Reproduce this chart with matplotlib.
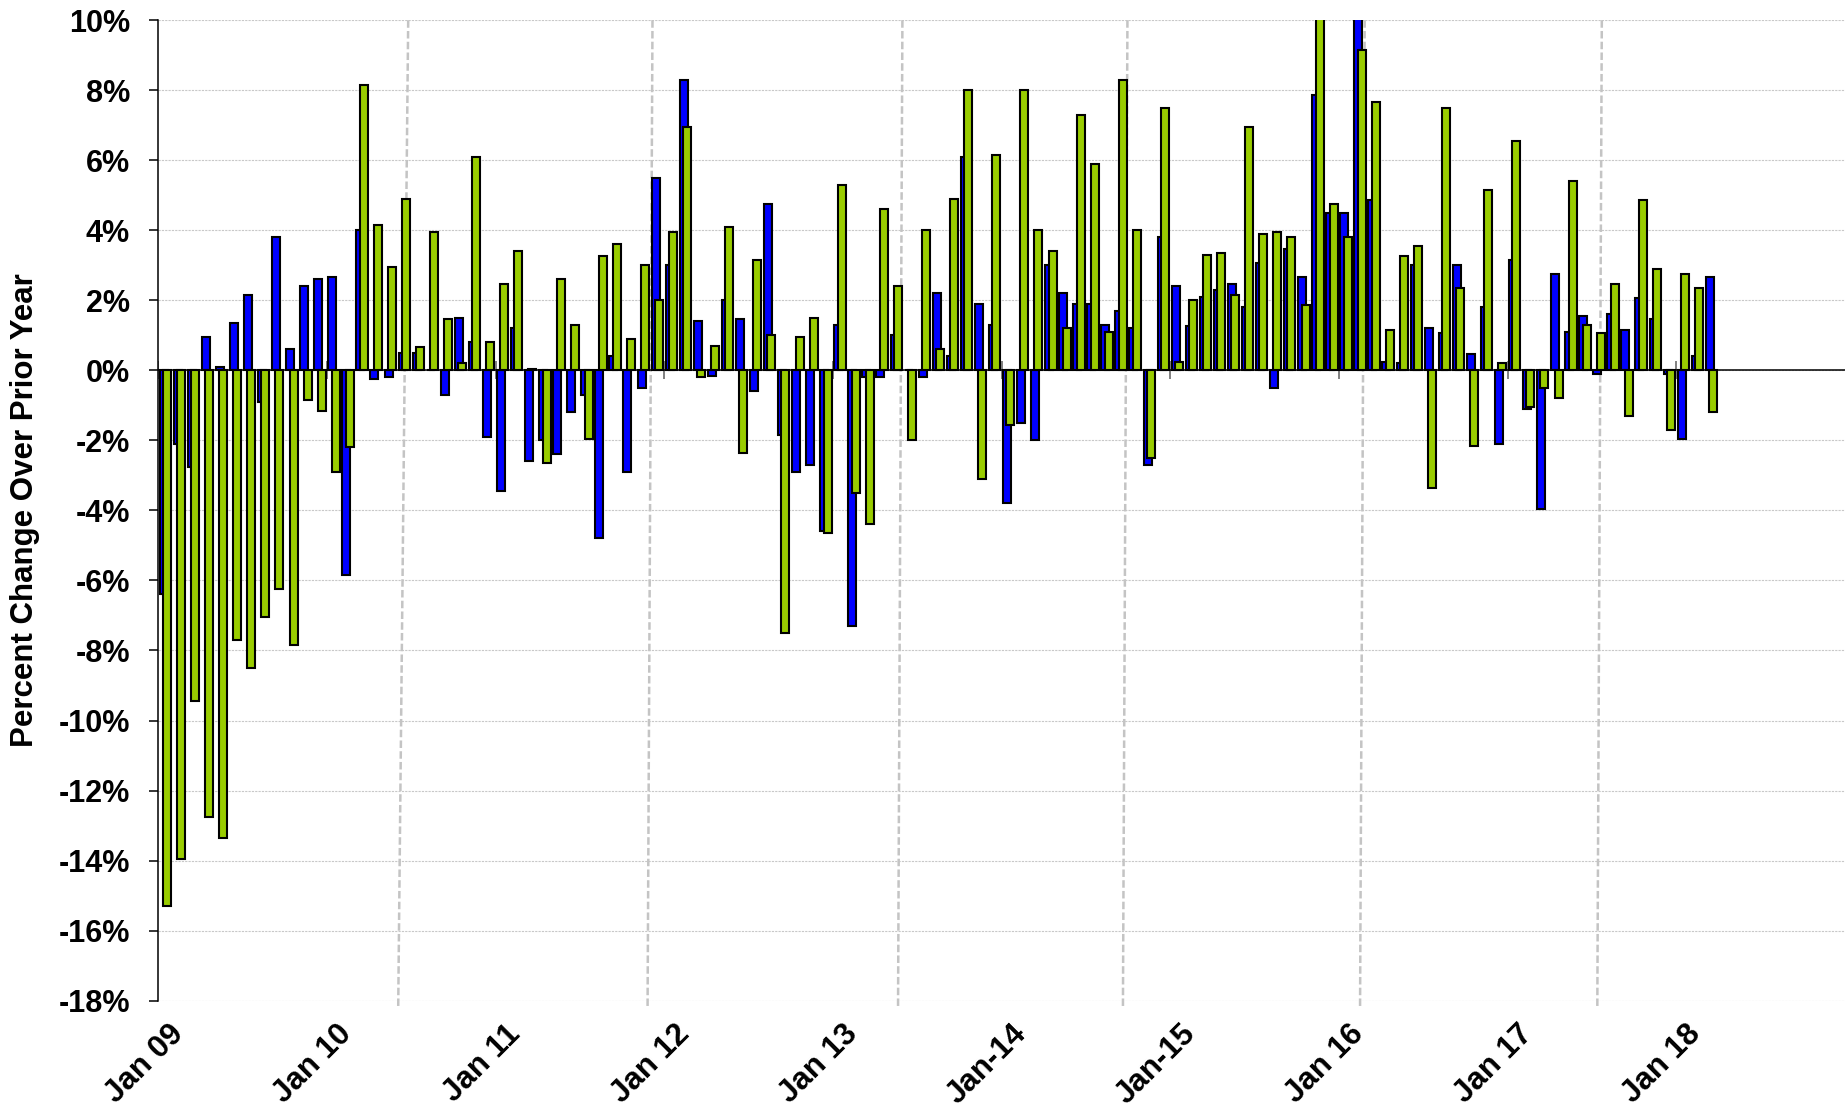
import matplotlib
matplotlib.use("Agg")
import matplotlib.pyplot as plt
import matplotlib.transforms as mtransforms
import numpy as np

plt.rcParams['font.family'] = ['Liberation Sans', 'DejaVu Sans']
plt.rcParams['font.weight'] = 'bold'

# ---------------- data ----------------
# monthly, Jan 2009 .. Mar 2018 (111 months); percent change over prior year
blue_series = [
    -6.4, -2.1, -2.75, 0.95, 0.1, 1.35, 2.15, -0.9, 3.8, 0.6, 2.4, 2.6,
    2.65, -5.85, 4.0, -0.25, -0.2, 0.5, 0.5, 0.0, -0.7, 1.5, 0.8, -1.9,
    -3.45, 1.2, -2.6, -2.0, -2.4, -1.2, -0.7, -4.8, 0.4, -2.9, -0.5, 5.5,
    3.0, 8.3, 1.4, -0.15, 2.0, 1.45, -0.6, 4.75, -1.85, -2.9, -2.7, -4.6,
    1.3, -7.3, -0.2, -0.2, 1.0, 0.0, -0.2, 2.2, 0.4, 6.1, 1.9, 1.3,
    -3.8, -1.5, -2.0, 3.0, 2.2, 1.9, 1.9, 1.3, 1.7, 1.2, -2.7, 3.8,
    2.4, 1.25, 2.1, 2.3, 2.45, 1.8, 3.05, -0.5, 3.45, 2.65, 7.85, 4.5,
    4.5, 10.5, 4.85, 0.25, 0.2, 3.0, 1.2, 1.05, 3.0, 0.45, 1.8, -2.1,
    3.15, -1.1, -3.95, 2.75, 1.1, 1.55, -0.12, 1.6, 1.15, 2.05, 1.45, -0.12,
    -1.95, 0.4, 2.65,
]
green_series = [
    -15.3, -13.95, -9.45, -12.75, -13.35, -7.7, -8.5, -7.05, -6.25, -7.85, -0.85, -1.15,
    -2.9, -2.2, 8.15, 4.15, 2.95, 4.9, 0.65, 3.95, 1.45, 0.2, 6.1, 0.8,
    2.45, 3.4, 0.05, -2.65, 2.6, 1.3, -1.95, 3.25, 3.6, 0.9, 3.0, 2.0,
    3.95, 6.95, -0.2, 0.7, 4.1, -2.35, 3.15, 1.0, -7.5, 0.95, 1.5, -4.65,
    5.3, -3.5, -4.4, 4.6, 2.4, -2.0, 4.0, 0.6, 4.9, 8.0, -3.1, 6.15,
    -1.55, 8.0, 4.0, 3.4, 1.2, 7.3, 5.9, 1.1, 8.3, 4.0, -2.5, 7.5,
    0.25, 2.0, 3.3, 3.35, 2.15, 6.95, 3.9, 3.95, 3.8, 1.85, 10.8, 4.75,
    3.8, 9.15, 7.65, 1.15, 3.25, 3.55, -3.35, 7.5, 2.35, -2.15, 5.15, 0.2,
    6.55, -1.05, -0.5, -0.8, 5.4, 1.3, 1.05, 2.45, -1.3, 4.85, 2.9, -1.7,
    2.75, 2.35, -1.2,
]
year_labels = ["Jan 09", "Jan 10", "Jan 11", "Jan 12", "Jan 13",
               "Jan-14", "Jan-15", "Jan 16", "Jan 17", "Jan 18"]
y_ticks = list(range(-18, 11, 2))
# hand-drawn period dividers (month position at top / at bottom of plot)
divider_top = [17.28, 34.66, 52.44, 68.45, 85.33, 102.2]
divider_bottom = [16.57, 34.31, 52.13, 68.13, 85.0, 101.88]

n_months = len(blue_series)
months = np.arange(n_months)
n_axis_months = 120  # axis spans Jan 09 .. Dec 18

# ---------------- figure ----------------
fig = plt.figure(figsize=(18.46, 11.13), dpi=100)
ax = fig.add_axes([0.08575, 0.10089, 0.9137, 0.88113])

bw = 0.57
off = 0.12
ax.bar(months - off, blue_series, width=bw, color='#0000FF',
       edgecolor='black', linewidth=1.5, zorder=3)
ax.bar(months + off, green_series, width=bw, color='#99CC00',
       edgecolor='black', linewidth=1.5, zorder=4)

ax.set_xlim(-0.5, n_axis_months - 0.5)
ax.set_ylim(-18, 10)

# grid
ax.set_yticks(y_ticks)
ax.set_yticklabels([f"{v}%" for v in y_ticks])
ax.yaxis.grid(True, color='#c8c8c8', linestyle=(0, (2, 1)), linewidth=0.8, zorder=0)
ax.set_axisbelow(True)

# zero (category) axis line
ax.axhline(0, color='black', linewidth=1.1, zorder=5)
tick_pos = np.arange(-0.5, n_axis_months, 12)[:len(year_labels)]
ax.plot(tick_pos, np.zeros_like(tick_pos), linestyle='none', marker='|',
        markersize=13, markeredgewidth=1.4, color='#808080', zorder=2)

# dividers
for xt, xb in zip(divider_top, divider_bottom):
    ax.plot([xb, xt], [-18.15, 10], color='#c4c4c4', linewidth=1.8,
            linestyle=(0, (3, 1.3)), zorder=1, clip_on=False)

# spines
for s in ['top', 'right', 'bottom']:
    ax.spines[s].set_visible(False)
ax.spines['left'].set_linewidth(1.1)
ax.spines['left'].set_color('black')

ax.tick_params(axis='y', direction='out', length=6.5, width=1.1, color='black',
               labelsize=22, pad=14)
ax.tick_params(axis='x', length=0, labelsize=22.5, pad=13)

ax.set_xticks(tick_pos)
ax.set_xticklabels(year_labels)
shift = mtransforms.ScaledTranslation(7 / 72, 0, fig.dpi_scale_trans)
for lab in ax.get_xticklabels():
    lab.set_rotation(45)
    lab.set_ha('right')
    lab.set_va('top')
    lab.set_rotation_mode('anchor')
    lab.set_fontweight('bold')
    lab.set_transform(lab.get_transform() + shift)
for lab in ax.get_yticklabels():
    lab.set_fontweight('bold')

ax.set_ylabel("Percent Change Over Prior Year", fontsize=22.5, fontweight='bold')
ax.yaxis.set_label_coords(-0.0701, 0.5)

fig.savefig("out.png", dpi=100)
